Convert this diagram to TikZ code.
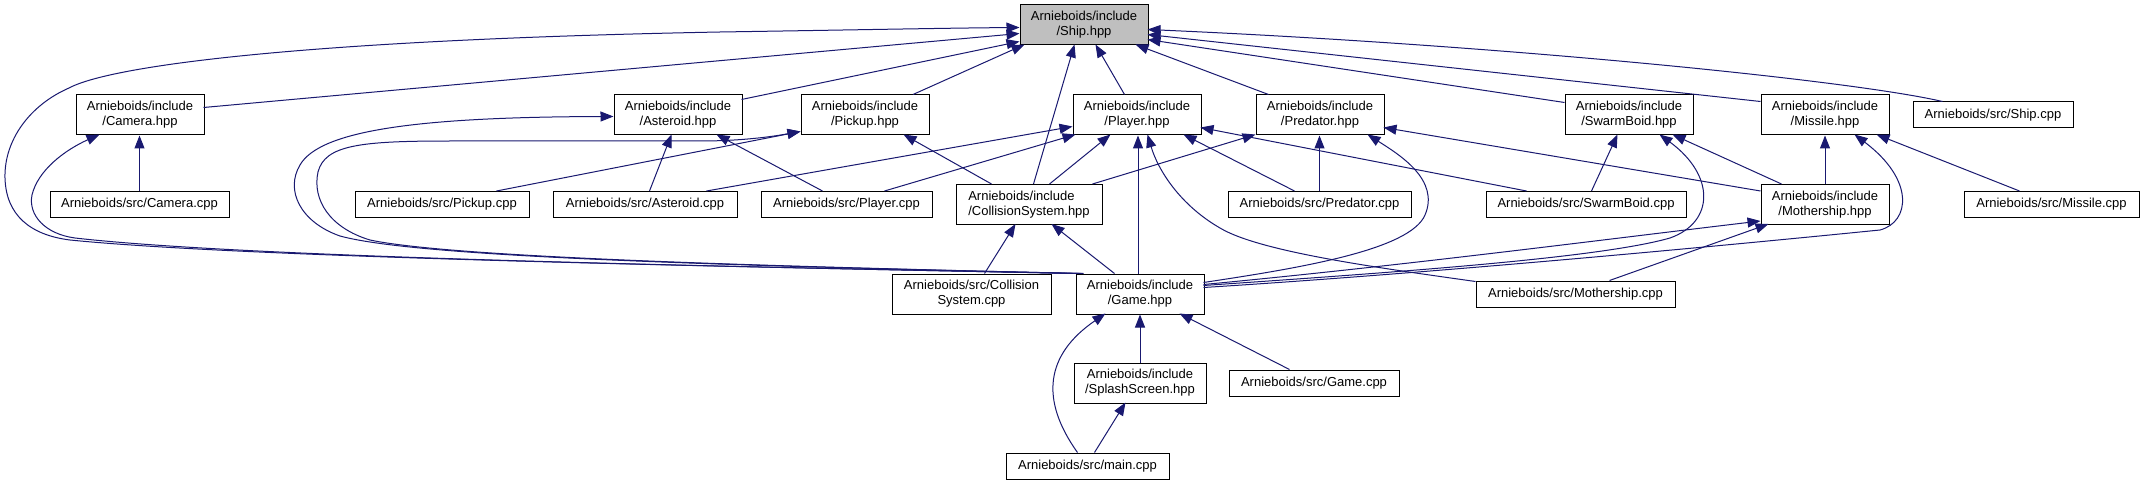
\documentclass[tikz,border=0pt]{standalone}
\usepackage{fontspec}
\setmainfont{Liberation Sans}
\usetikzlibrary{arrows.meta,calc}
\definecolor{edgeblue}{HTML}{191970}
\definecolor{shipgray}{HTML}{BFBFBF}
\begin{document}
\begin{tikzpicture}[x=1pt,y=-1pt,
  box/.style={draw=black,line width=1pt,rectangle,inner sep=0pt,font=\fontsize{13}{15}\selectfont,align=center,text=black},
  two/.style={box,minimum height=40pt},
  one/.style={box,minimum height=26pt},
  edge/.style={draw=edgeblue,line width=1pt,-{Triangle[length=13pt,width=10pt]}}]
\fill[white] (0,0) rectangle (2145,484);
\useasboundingbox (0,0) rectangle (2145,484);

% nodes
\node[two,fill=shipgray,minimum width=128pt] (ship) at (1084,25) {Arnieboids/include\\/Ship.hpp};
\node[two,minimum width=128pt] (camh) at (140,115) {Arnieboids/include\\/Camera.hpp};
\node[two,minimum width=128pt] (asth) at (678,115) {Arnieboids/include\\/Asteroid.hpp};
\node[two,minimum width=128pt] (pickh) at (865,115) {Arnieboids/include\\/Pickup.hpp};
\node[two,minimum width=128pt] (playh) at (1137,115) {Arnieboids/include\\/Player.hpp};
\node[two,minimum width=128pt] (predh) at (1320,115) {Arnieboids/include\\/Predator.hpp};
\node[two,minimum width=128pt] (swarmh) at (1629,115) {Arnieboids/include\\/SwarmBoid.hpp};
\node[two,minimum width=128pt] (missh) at (1825,115) {Arnieboids/include\\/Missile.hpp};
\node[one,minimum width=160pt] (shipcpp) at (1993,115) {Arnieboids/src/Ship.cpp};
\node[one,minimum width=179pt] (camcpp) at (139.5,204.5) {Arnieboids/src/Camera.cpp};
\node[one,minimum width=174pt] (pickcpp) at (442,204.5) {Arnieboids/src/Pickup.cpp};
\node[one,minimum width=184pt] (astcpp) at (645,204.5) {Arnieboids/src/Asteroid.cpp};
\node[one,minimum width=171pt] (playcpp) at (846.5,204.5) {Arnieboids/src/Player.cpp};
\node[two,minimum width=146pt,align=left] (collh) at (1029,204.5) {Arnieboids/include\\/CollisionSystem.hpp};
\node[one,minimum width=183pt] (predcpp) at (1319.5,204.5) {Arnieboids/src/Predator.cpp};
\node[one,minimum width=200pt] (swarmcpp) at (1586,204.5) {Arnieboids/src/SwarmBoid.cpp};
\node[two,minimum width=128pt] (mothh) at (1825,204.5) {Arnieboids/include\\/Mothership.hpp};
\node[one,minimum width=175pt] (misscpp) at (2051.5,204.5) {Arnieboids/src/Missile.cpp};
\node[two,minimum width=159pt] (collcpp) at (971.5,294) {Arnieboids/src/Collision\\System.cpp};
\node[two,minimum width=128pt] (gameh) at (1140,294) {Arnieboids/include\\/Game.hpp};
\node[one,minimum width=199pt] (mothcpp) at (1575.5,294) {Arnieboids/src/Mothership.cpp};
\node[two,minimum width=132pt] (splash) at (1140,383) {Arnieboids/include\\/SplashScreen.hpp};
\node[one,minimum width=170pt] (gamecpp) at (1314,383) {Arnieboids/src/Game.cpp};
\node[one,minimum width=163pt] (maincpp) at (1087.5,466) {Arnieboids/src/main.cpp};

% edges into Ship.hpp
\draw[edge] ($(gameh.north west)+(2,0)$) .. controls (750,267) and (250,258) .. (70,240)
  .. controls (30,235) and (6,215) .. (5,178) .. controls (4,140) and (30,105) .. (69,88)
  .. controls (110,66) and (300,40) .. (720,32) .. controls (850,30) and (950,28) .. ($(ship.north west)+(0,23)$);
\draw[edge] ($(camh.north west)+(128,13)$) -- ($(ship.north west)+(0,29)$);
\draw[edge] ($(asth.north west)+(128,5)$) -- ($(ship.north west)+(0,37)$);
\draw[edge] ($(pickh.north west)+(112.5,0)$) -- ($(ship.north west)+(5,40)$);
\draw[edge] ($(collh.north west)+(78,0)$) -- ($(ship.north west)+(55,40)$);
\draw[edge] ($(playh.north west)+(52,0)$) -- ($(ship.north west)+(76,40)$);
\draw[edge] ($(predh.north west)+(13,0)$) -- ($(ship.north west)+(116,40)$);
\draw[edge] ($(swarmh.north west)+(0,8)$) -- ($(ship.north west)+(128,35)$);
\draw[edge] ($(missh.north west)+(0,7)$) -- ($(ship.north west)+(128,30)$);
\draw[edge] ($(shipcpp.north west)+(30,0)$) .. controls (1850,80) and (1500,45) .. ($(ship.north west)+(128,25)$);

% Camera.hpp
\draw[edge] (camcpp.north) -- (camcpp.north |- camh.south);
\draw[edge] ($(gameh.north west)+(4,0)$) .. controls (750,267) and (250,258) .. (75,238)
  .. controls (45,234) and (28,215) .. (32,195) .. controls (38,170) and (65,150) .. ($(camh.north west)+(24,40)$);

% Asteroid.hpp
\draw[edge] ($(gameh.north west)+(6,0)$) .. controls (750,266) and (420,258) .. (340,236)
  .. controls (300,222) and (285,190) .. (300,165) .. controls (320,130) and (420,117) .. ($(asth.north west)+(0,22)$);
\draw[edge] ($(astcpp.north west)+(97,0)$) -- ($(asth.north west)+(58,40)$);
\draw[edge] ($(playcpp.north west)+(62,0)$) -- ($(asth.north west)+(103,40)$);

% Pickup.hpp
\draw[edge] ($(gameh.north west)+(8,0)$) .. controls (750,266) and (450,257) .. (370,240)
  .. controls (330,228) and (312,200) .. (318,172) .. controls (325,145) and (360,141) .. (450,141)
  -- (700,141) .. controls (740,141) and (770,137) .. ($(pickh.north west)+(0,37)$);
\draw[edge] ($(pickcpp.north west)+(142,0)$) -- ($(pickh.north west)+(0,37)$);
\draw[edge] ($(collh.north west)+(36,0)$) -- ($(pickh.north west)+(103,40)$);

% Player.hpp
\draw[edge] ($(astcpp.north west)+(154,0)$) -- ($(playh.north west)+(0,32)$);
\draw[edge] ($(playcpp.north west)+(124,0)$) -- ($(playh.north west)+(3,40)$);
\draw[edge] ($(collh.north west)+(94,0)$) -- ($(playh.north west)+(38,40)$);
\draw[edge] ($(gameh.north)+(-2,0)$) -- ($(playh.south)+(1,0)$);
\draw[edge] ($(predcpp.north west)+(67,0)$) -- ($(playh.north west)+(111,40)$);
\draw[edge] ($(swarmcpp.north west)+(41,0)$) -- ($(playh.north west)+(128,33)$);
\draw[edge] ($(mothcpp.north west)+(0,1)$) .. controls (1380,268) and (1260,252) .. (1220,228)
  .. controls (1180,205) and (1158,170) .. ($(playh.north west)+(75,40)$);

% Predator.hpp
\draw[edge] ($(collh.north west)+(137,0)$) -- ($(predh.north west)+(0,40)$);
\draw[edge] (predcpp.north) -- (predcpp.north |- predh.south);
\draw[edge] ($(gameh.north west)+(128,9)$) .. controls (1300,268) and (1410,250) .. (1425,215)
  .. controls (1440,180) and (1400,155) .. ($(predh.north west)+(112,40)$);
\draw[edge] ($(mothh.north west)+(0,7)$) -- ($(predh.north west)+(128,33)$);

% SwarmBoid.hpp
\draw[edge] ($(swarmcpp.north west)+(106,0)$) -- ($(swarmh.north west)+(53,40)$);
\draw[edge] ($(mothh.north west)+(21,0)$) -- ($(swarmh.north west)+(108,40)$);
\draw[edge] ($(gameh.north west)+(128,12)$) .. controls (1400,272) and (1600,258) .. (1670,238)
  .. controls (1715,222) and (1715,175) .. ($(swarmh.north west)+(95,40)$);

% Missile.hpp
\draw[edge] (mothh.north) -- (missh.south);
\draw[edge] ($(misscpp.north west)+(56,0)$) -- ($(missh.north west)+(116,40)$);
\draw[edge] ($(gameh.north west)+(128,14)$) .. controls (1450,272) and (1750,243) .. (1880,230)
  .. controls (1910,222) and (1915,180) .. ($(missh.north west)+(94,40)$);

% Mothership.hpp
\draw[edge] ($(gameh.north west)+(128,11)$) .. controls (1400,266) and (1600,240) .. ($(mothh.north west)+(0,37)$);
\draw[edge] ($(mothcpp.north west)+(134,0)$) -- ($(mothh.north west)+(8,40)$);

% CollisionSystem.hpp
\draw[edge] ($(collcpp.north west)+(93,0)$) -- ($(collh.north west)+(60,40)$);
\draw[edge] ($(gameh.north west)+(39,0)$) -- ($(collh.north west)+(96,40)$);

% Game.hpp
\draw[edge] (splash.north) -- (gameh.south);
\draw[edge] ($(maincpp.north west)+(72,0)$) .. controls (1040,400) and (1045,355) .. ($(gameh.north west)+(30,40)$);
\draw[edge] ($(gamecpp.north west)+(61,0)$) -- ($(gameh.north west)+(104,40)$);

% SplashScreen.hpp
\draw[edge] ($(maincpp.north west)+(89,0)$) -- ($(splash.north west)+(52,40)$);
\end{tikzpicture}
\end{document}
